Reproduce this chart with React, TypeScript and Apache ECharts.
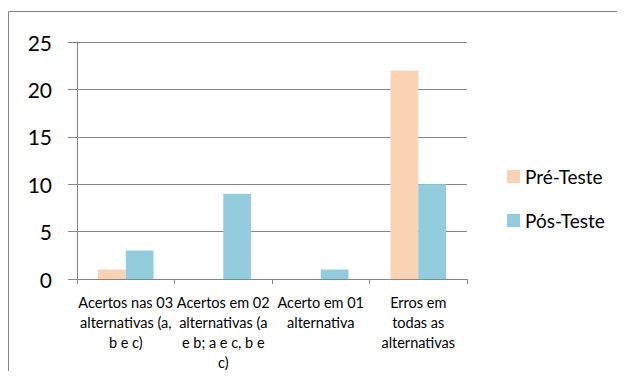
import React, { useEffect, useRef } from "react";
import * as echarts from "echarts";

// Answer categories (line breaks as they wrap under each group)
const categories = [
  "Acertos nas 03\nalternativas (a,\nb e c)",
  "Acertos em 02\nalternativas (a\ne b; a e c, b e\nc)",
  "Acerto em 01\nalternativa",
  "Erros em\ntodas as\nalternativas",
];

const preTeste = [1, 0, 0, 22];
const posTeste = [3, 9, 1, 10];

const seriesNames = ["Pré-Teste", "Pós-Teste"];
const seriesColors = ["#FAD3B4", "#93CDDD"];

const yTicks = { min: 0, max: 25, interval: 5 };

const FONT = "Lato, 'Open Sans', sans-serif";
const GRAY = "#858585";

export default function App() {
  const ref = useRef<HTMLDivElement>(null);

  useEffect(() => {
    if (!ref.current) return;
    const chart = echarts.init(ref.current, undefined, { renderer: "svg" });
    chart.setOption({
      animation: false,
      backgroundColor: "#ffffff",
      textStyle: { fontFamily: FONT, color: "#000" },
      graphic: [
        {
          type: "rect",
          shape: { x: 8.5, y: 11.5, width: 800, height: 600 },
          style: { fill: "none", stroke: GRAY, lineWidth: 1 },
          silent: true,
          z: -1,
        },
      ],
      grid: { left: 77, right: 158, top: 42, bottom: 100, containLabel: false },
      legend: {
        orient: "vertical",
        left: 502,
        top: 160,
        padding: 5,
        itemWidth: 13,
        itemHeight: 13,
        itemGap: 21,
        icon: "rect",
        textStyle: { fontFamily: FONT, fontSize: 19, color: "#000", lineHeight: 23 },
        data: seriesNames,
      },
      xAxis: {
        type: "category",
        data: categories,
        axisLine: { lineStyle: { color: GRAY, width: 1 } },
        axisTick: { show: true, length: 5, alignWithLabel: false, lineStyle: { color: GRAY } },
        axisLabel: {
          interval: 0,
          margin: 13,
          fontFamily: FONT,
          fontSize: 14.5,
          lineHeight: 20,
          color: "#000",
        },
      },
      yAxis: {
        type: "value",
        min: yTicks.min,
        max: yTicks.max,
        interval: yTicks.interval,
        axisLine: { show: true, lineStyle: { color: GRAY, width: 1 } },
        axisTick: { show: true, length: 9, lineStyle: { color: GRAY } },
        splitLine: { show: true, lineStyle: { color: GRAY, width: 1 } },
        axisLabel: { margin: 25, fontFamily: FONT, fontSize: 21, color: "#000" },
      },
      series: [
        {
          name: seriesNames[0],
          type: "bar",
          data: preTeste,
          itemStyle: { color: seriesColors[0] },
          barGap: "0%",
          barCategoryGap: "43%",
        },
        {
          name: seriesNames[1],
          type: "bar",
          data: posTeste,
          itemStyle: { color: seriesColors[1] },
          barGap: "0%",
          barCategoryGap: "43%",
        },
      ],
    });
    return () => chart.dispose();
  }, []);

  return <div ref={ref} style={{ width: 625, height: 379, margin: -8 }} />;
}
